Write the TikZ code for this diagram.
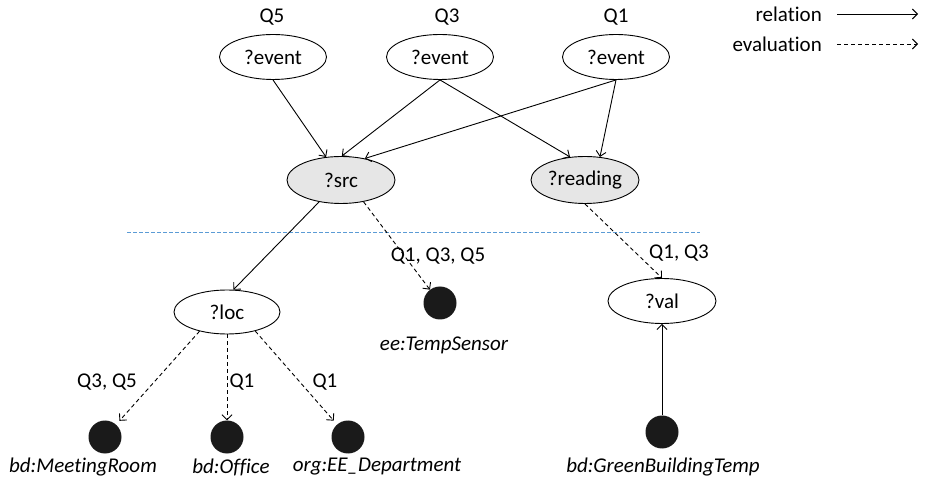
\documentclass[tikz,border=0pt]{standalone}
\usepackage{fontspec}
\setmainfont{Carlito}[Ligatures=NoCommon]
\usetikzlibrary{shapes.geometric,arrows.meta}
\definecolor{dotc}{RGB}{26,26,26}
\definecolor{nodegray}{RGB}{230,230,230}
\definecolor{sepblue}{RGB}{91,155,213}
\begin{document}
\begin{tikzpicture}[x=1pt,y=-1pt,
  every node/.style={font=\fontsize{21}{25}\selectfont},
  var/.style={ellipse,draw,line width=0.9pt,minimum width=107pt,minimum height=45pt,inner sep=0pt},
  gvar/.style={var,fill=nodegray,minimum width=108pt,minimum height=47pt},
  res/.style={circle,fill=dotc,minimum size=33pt,inner sep=0pt},
  rel/.style={line width=0.9pt,-{Straight Barb[length=5pt,width=10pt]}},
  evl/.style={rel,dash pattern=on 4pt off 3pt},
  lbl/.style={inner sep=0pt},
  ilbl/.style={inner sep=0pt,font=\fontsize{21}{25}\selectfont\itshape}]
\useasboundingbox (0,0) rectangle (927,478);
% query variables
\node[var] (e5) at (273,57) {?event};
\node[var] (e3) at (440,57) {?event};
\node[var] (e1) at (616,57) {?event};
\node[lbl] (q5) at (272,17) {Q5};
\node[lbl] (q3) at (447,17) {Q3};
\node[lbl] (q1) at (616,17) {Q1};
\node[gvar] (src) at (341,180) {?src};
\node[gvar] (rd) at (585,180) {?reading};
\node[var,minimum width=106pt,minimum height=44pt] (loc) at (227,312) {?loc};
\node[var,minimum width=108pt,minimum height=45pt] (val) at (662,301) {?val};
% resources
\node[res] (mr) at (105,437) {};
\node[res] (of) at (227,437) {};
\node[res] (ee) at (348,437) {};
\node[res] (ts) at (440,303) {};
\node[res] (gb) at (662,432) {};
\node[ilbl] (mrl) at (83,467) {bd:MeetingRoom};
\node[ilbl] (ofl) at (231,467) {bd:Office};
\node[ilbl] (eel) at (377,467) {org:EE\_Department};
\node[ilbl] (tsl) at (444,345) {ee:TempSensor};
\node[ilbl] (gbl) at (663,467) {bd:GreenBuildingTemp};
% separator
\coordinate (sl) at (127,233);
\coordinate (sr) at (700,233);
\draw[sepblue,line width=1pt,dash pattern=on 4pt off 2pt] (sl) -- (sr);
% relations
\draw[rel] (e5.south) -- (src.123);
\draw[rel] (e3.south) -- (src.88);
\draw[rel] (e3.south) -- (rd.123);
\draw[rel] (e1.south) -- (src.42);
\draw[rel] (e1.south) -- (rd.57);
\draw[rel] (src.-135) -- (loc.74);
\draw[rel] (gb) -- (val.south);
% evaluations
\draw[evl] (src.-44) -- (ts);
\draw[evl] (rd.south) -- (val.north);
\draw[evl,shorten >=5pt] (loc.-145) -- (mr);
\draw[evl] (loc.south) -- (of);
\draw[evl,shorten >=5pt] (loc.-34) -- (ee);
% evaluation labels
\node[lbl] (l1) at (438,256) {Q1, Q3, Q5};
\node[lbl] (l2) at (679,253) {Q1, Q3};
\node[lbl] (l3) at (107,382) {Q3, Q5};
\node[lbl] (l4) at (242,382) {Q1};
\node[lbl] (l5) at (325,382) {Q1};
% legend
\node[lbl,anchor=east] (lr) at (822,14) {relation};
\node[lbl,anchor=east] (le) at (822,44) {evaluation};
\coordinate (lr1) at (837,14);
\coordinate (lr2) at (918,14);
\coordinate (le1) at (837,44);
\coordinate (le2) at (918,44);
\draw[rel] (lr1) -- (lr2);
\draw[evl] (le1) -- (le2);
\end{tikzpicture}
\end{document}
